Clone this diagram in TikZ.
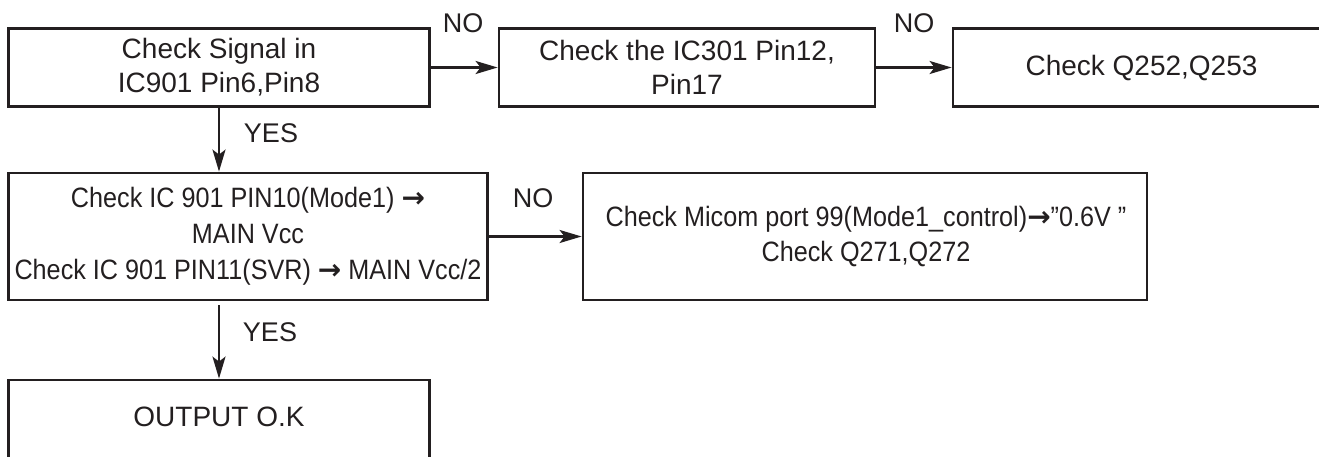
\documentclass[tikz,border=0pt]{standalone}
\usepackage{fontspec}
\setmainfont{Liberation Sans}
\newfontfamily\condfont[FakeStretch=0.9]{Liberation Sans}
\newfontfamily\symfont{DejaVu Sans Bold}
\newcommand{\rarrow}{{\symfont →}}
\usetikzlibrary{arrows.meta}
\definecolor{ink}{HTML}{231F20}
\tikzset{
  box/.style={draw=ink, line width=2.8pt, rectangle, inner sep=0pt, align=center,
    text=ink, font=\fontsize{28}{34}\selectfont},
  condbox/.style={box, font=\condfont\fontsize{28}{36}\selectfont},
  lbl/.style={text=ink, inner sep=0pt, font=\fontsize{27}{32}\selectfont},
  txt/.style={text=ink, inner sep=0pt, align=center},
  arr/.style={draw=ink, line width=2.4pt, -{Stealth[length=22pt,width=13pt,inset=5pt]}}
}
\begin{document}
\begin{tikzpicture}[x=1pt,y=-1pt]
\useasboundingbox (0,0) rectangle (1319,456);
\clip (0,0) rectangle (1319,456);
% row 1
\node[box, minimum width=421pt, minimum height=78pt] (b1) at (219,67.5)
  {Check Signal in\\IC901 Pin6,Pin8};
\node[box, minimum width=376pt, minimum height=78pt] (b2) at (687,67.5)
  {Check the IC301 Pin12,\\Pin17};
\node[box, minimum width=377pt, minimum height=78pt] (b3) at (1141.5,67.5)
  {Check Q252,Q253};
% row 2
\node[condbox, minimum width=479.5pt, minimum height=127pt] (b4) at (248,236.5)
  {Check IC 901 PIN10(Mode1) \rarrow{} \\MAIN Vcc\\Check IC 901 PIN11(SVR) \rarrow{} MAIN Vcc/2};
\node[condbox, minimum width=564pt, minimum height=127pt] (b5) at (865,236.5) {};
\node[txt, font=\condfont\fontsize{28}{35}\selectfont] (t5) at (866,236)
  {Check Micom port 99(Mode1\_control)\rarrow”0.6V ”\\Check Q271,Q272};
% row 3
\node[box, minimum width=421.5pt, minimum height=90pt] (b6) at (219,425) {};
\node[txt, font=\fontsize{28}{34}\selectfont] (t6) at (219,417) {OUTPUT O.K};
% connectors
\draw[arr] (b1.east) -- (b2.west);
\draw[arr] (b2.east) -- (b3.west);
\draw[arr] (b4.east |- b5.west) -- (b5.west);
\draw[arr] (b1.south) -- (b4.north -| b1.south);
\draw[arr, shorten <=4pt] (b4.south -| b6.north) -- (b6.north);
% labels
\node[lbl] (no1) at (463,23) {NO};
\node[lbl] (no2) at (914,23) {NO};
\node[lbl] (no3) at (533,198) {NO};
\node[lbl] (yes1) at (271,133) {YES};
\node[lbl] (yes2) at (270,332) {YES};
\end{tikzpicture}
\end{document}
